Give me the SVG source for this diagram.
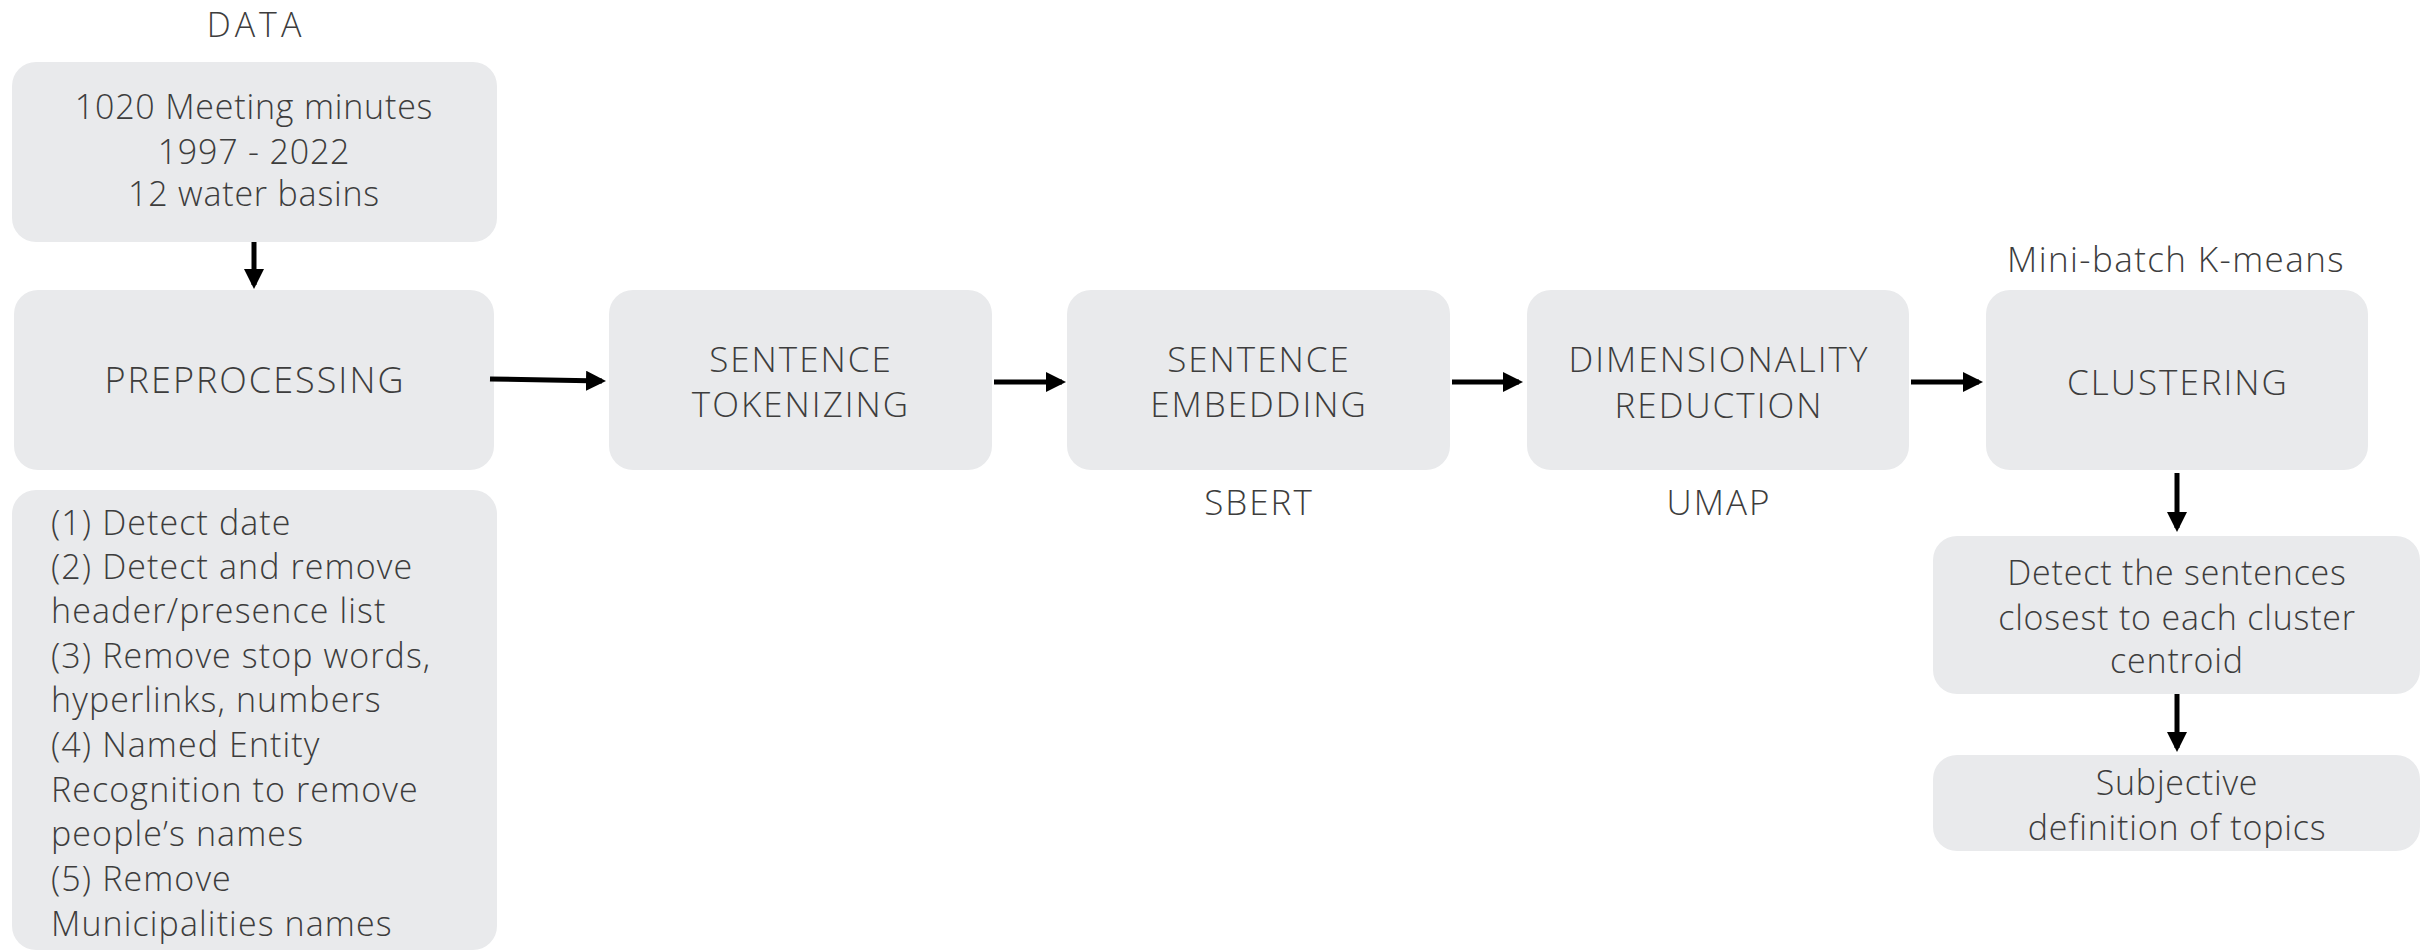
<svg xmlns="http://www.w3.org/2000/svg" width="2422" height="952" viewBox="0 0 2422 952">
<style>
.box{fill:#e9eaec}
text{font-family:"Open Sans","Noto Sans","Liberation Sans",sans-serif;font-weight:300;fill:#3d3d3d;font-size:34px;letter-spacing:0.8px}
.c{text-anchor:middle}
.cap{letter-spacing:2px;font-size:35px}
.list{letter-spacing:1.1px}
.conn{stroke:#000;stroke-width:5;fill:none}
</style>
<defs>
<marker id="ah" markerWidth="4" markerHeight="4" refX="3.2" refY="2" orient="auto" markerUnits="strokeWidth">
<path d="M0,0 L4,2 L0,4 Z" fill="#000"/>
</marker>
</defs>
<rect width="2422" height="952" fill="#fff"/>
<g id="label-data"><text class="c" x="256" y="37" style="font-size:34px;letter-spacing:4px">DATA</text></g>
<g id="node-data">
<rect class="box" x="12" y="62" width="485" height="180" rx="24"/>
<text class="c" x="254" y="119">1020 Meeting minutes</text>
<text class="c" x="254" y="164">1997 - 2022</text>
<text class="c" x="254" y="206">12 water basins</text>
</g>
<g id="node-preprocessing">
<rect class="box" x="14" y="290" width="480" height="180" rx="24"/>
<text class="c cap" x="255" y="393" style="font-size:36px">PREPROCESSING</text>
</g>
<g id="node-steps">
<rect class="box" x="12" y="490" width="485" height="460" rx="24"/>
<text class="list" x="51" y="535">(1) Detect date</text>
<text class="list" x="51" y="579">(2) Detect and remove</text>
<text class="list" x="51" y="623">header/presence list</text>
<text class="list" x="51" y="668">(3) Remove stop words,</text>
<text class="list" x="51" y="712">hyperlinks, numbers</text>
<text class="list" x="51" y="757">(4) Named Entity</text>
<text class="list" x="51" y="802">Recognition to remove</text>
<text class="list" x="51" y="846">people’s names</text>
<text class="list" x="51" y="891">(5) Remove</text>
<text class="list" x="51" y="936">Municipalities names</text>
</g>
<g id="node-tokenizing">
<rect class="box" x="609" y="290" width="383" height="180" rx="24"/>
<text class="c cap" x="801" y="372">SENTENCE</text>
<text class="c cap" x="801" y="417">TOKENIZING</text>
</g>
<g id="node-embedding">
<rect class="box" x="1067" y="290" width="383" height="180" rx="24"/>
<text class="c cap" x="1259" y="372">SENTENCE</text>
<text class="c cap" x="1259" y="417">EMBEDDING</text>
</g>
<g id="label-sbert"><text class="c cap" x="1259" y="515">SBERT</text></g>
<g id="node-dimred">
<rect class="box" x="1527" y="290" width="382" height="180" rx="24"/>
<text class="c cap" x="1719" y="372">DIMENSIONALITY</text>
<text class="c cap" x="1719" y="418">REDUCTION</text>
</g>
<g id="label-umap"><text class="c cap" x="1719" y="515">UMAP</text></g>
<g id="label-kmeans"><text class="c" x="2176" y="272" style="font-size:35px;letter-spacing:1.4px">Mini-batch K-means</text></g>
<g id="node-clustering">
<rect class="box" x="1986" y="290" width="382" height="180" rx="24"/>
<text class="c cap" x="2178" y="395">CLUSTERING</text>
</g>
<g id="node-detect">
<rect class="box" x="1933" y="536" width="487" height="158" rx="24"/>
<text class="c" x="2177" y="585">Detect the sentences</text>
<text class="c" x="2177" y="630">closest to each cluster</text>
<text class="c" x="2177" y="673">centroid</text>
</g>
<g id="node-subjective">
<rect class="box" x="1933" y="755" width="487" height="96" rx="24"/>
<text class="c" x="2177" y="795">Subjective</text>
<text class="c" x="2177" y="840">definition of topics</text>
</g>
<g id="connectors">
<line class="conn" x1="254" y1="242" x2="254" y2="285" marker-end="url(#ah)"/>
<line class="conn" x1="490" y1="379" x2="602" y2="381" marker-end="url(#ah)"/>
<line class="conn" x1="994" y1="382" x2="1062" y2="382" marker-end="url(#ah)"/>
<line class="conn" x1="1452" y1="382" x2="1519" y2="382" marker-end="url(#ah)"/>
<line class="conn" x1="1911" y1="382" x2="1979" y2="382" marker-end="url(#ah)"/>
<line class="conn" x1="2177" y1="473" x2="2177" y2="528" marker-end="url(#ah)"/>
<line class="conn" x1="2177" y1="694" x2="2177" y2="748" marker-end="url(#ah)"/>
</g>
</svg>
